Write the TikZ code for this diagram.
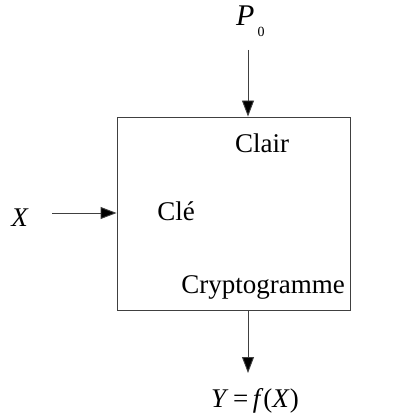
\documentclass[tikz,border=0pt]{standalone}
\usepackage{fontspec}
\setmainfont{Liberation Serif}
\usetikzlibrary{arrows.meta, positioning}
\tikzstyle{cipherbox} =
[rectangle, minimum width = 233pt, minimum height = 193pt, draw=black!75,
line width = 0.9pt]
\tikzstyle{label} =
[anchor = base, inner sep = 0pt, font = \fontsize{27}{30}\selectfont]
\tikzstyle{line} = [draw=black!75, line width = 0.9pt,
-{Triangle[length=16pt, width=12pt, fill=black]}]

\begin{document}
\begin{tikzpicture}[x=1pt, y=-1pt]
  \useasboundingbox (0,0) rectangle (402,414);
  % box
  \node [cipherbox] (cipher) at (233.5,213.5) {};
  \node [label] (clair) at (262,153) {Clair};
  \node [label] (cle) at (176,220) {Clé};
  \node [label] (crypto) at (263,293) {Cryptogramme};
  %
  % inputs
  \node [label, anchor=base west] (pzero) at (236,26)
   {\fontsize{30}{32}\selectfont\textit{P}\kern3pt\raisebox{-11pt}{\fontsize{14}{15}\selectfont 0}};
  \coordinate (ptop) at (248,50);
  \path [line] (ptop) -- (ptop |- cipher.north);
  \node [label] (xin) at (20,226) {\textit{X}};
  \coordinate (xstart) at (52,213);
  \path [line] (xstart) -- (xstart -| cipher.west);
  %
  % output
  \coordinate (yend) at (248,373);
  \path [line] (yend |- cipher.south) -- (yend);
  \node [label] (yout) at (255,407) {\textit{Y}\,=\,\textit{f}(\textit{X})};
\end{tikzpicture}
\end{document}
